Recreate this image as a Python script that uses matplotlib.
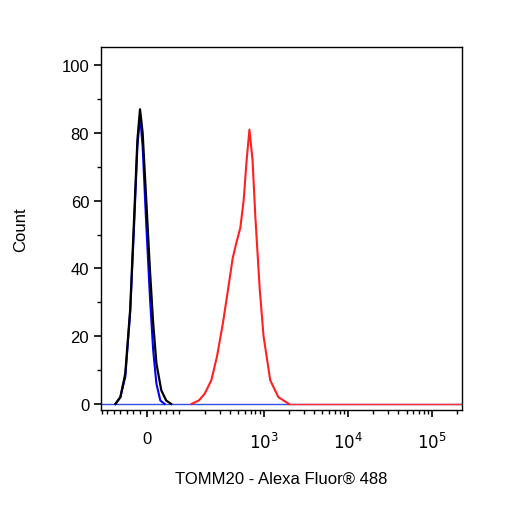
import numpy as np
import matplotlib
matplotlib.use("Agg")
import matplotlib.pyplot as plt

plt.rcParams["font.family"] = ["Liberation Sans", "DejaVu Sans"]

# fluorescence values and counts
black_x = [-95, -80, -65, -50, -38, -28, -20, -12, -2, 10, 20, 30, 45, 60, 75]
black_y = [0, 2, 9, 28, 55, 78, 87, 80, 62, 40, 24, 12, 4, 1, 0]
blue_x = [-95, -80, -65, -50, -38, -28, -20, -12, -2, 10, 20, 30, 42, 55]
blue_y = [0, 2, 8, 27, 53, 76, 85, 76, 55, 32, 16, 6, 1, 0]
red_x = [140, 170, 200, 240, 280, 330, 380, 430, 480, 530, 580, 630, 680,
         740, 800, 900, 1000, 1200, 1500, 2000]
red_y = [0, 1, 3, 7, 14, 24, 34, 43, 48, 52, 60, 72, 81, 72, 55, 34, 20, 7, 2, 0]

x_ticks = [0, 1e3, 1e4, 1e5]
x_labels = ["0", "$10^3$", "$10^4$", "$10^5$"]
y_ticks = [0, 20, 40, 60, 80, 100]

fig = plt.figure(figsize=(5.06, 5.06), dpi=100)
ax = fig.add_axes([0.1996, 0.1877, 0.7134, 0.717])
ax.set_xscale("symlog", linthresh=100, linscale=0.35)
ax.set_xlim(-142, 2.27e5)
ax.set_ylim(-1.8, 105.3)

xmin, xmax = ax.get_xlim()
ax.plot([xmin, xmax], [0, 0], color="#3050e0", lw=1)
ax.plot([2000, xmax], [0, 0], color="#ff3030", lw=1)
ax.plot(red_x, red_y, color="#ff2020", lw=1.5)
ax.plot(blue_x, blue_y, color="blue", lw=1.5)
ax.plot(black_x, black_y, color="black", lw=1.6)

ax.set_xticks(x_ticks)
ax.set_xticklabels(x_labels, fontsize=12)
minor = list(range(-140, 101, 20))
for d in [100, 1000, 10000, 100000]:
    minor += [k * d for k in range(2, 10)]
ax.set_xticks([m for m in minor if xmin < m < xmax], minor=True)
ax.set_yticks(y_ticks)
ax.set_yticks(range(0, 101, 10), minor=True)
ax.tick_params(axis="both", which="major", length=5, width=1.2, labelsize=12)
ax.tick_params(axis="both", which="minor", length=3, width=1)
ax.tick_params(axis="x", pad=10)
for s in ax.spines.values():
    s.set_linewidth(1)

ax.set_xlabel("TOMM20 - Alexa Fluor® 488", fontsize=12, labelpad=14)
ax.set_ylabel("Count", fontsize=12, labelpad=24)
fig.savefig("out.png", dpi=100)
